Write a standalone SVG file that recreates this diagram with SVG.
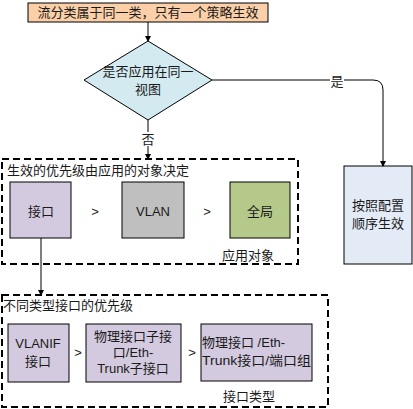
<svg xmlns="http://www.w3.org/2000/svg" width="413" height="409" viewBox="0 0 413 409">
<defs>
<style>
text{font-family:"Liberation Sans","Noto Sans CJK SC",sans-serif;font-size:13px;fill:#1a1a1a;text-anchor:middle;dominant-baseline:central}
.l{text-anchor:start}
.box{stroke:#000;stroke-width:1}
.dash{fill:none;stroke:#000;stroke-width:2;stroke-dasharray:7,4}
.con{fill:none;stroke:#000;stroke-width:1}
.pur{fill:#d3cadf}
</style>
<marker id="ah" markerWidth="6" markerHeight="6" refX="5" refY="3" orient="auto" markerUnits="userSpaceOnUse">
<path d="M0,0 L6,3 L0,6 z" fill="#000"/>
</marker>
</defs>
<rect width="413" height="409" fill="#fff"/>
<g id="group1">
<rect class="dash" x="2" y="159" width="296" height="105"/>
<text class="l" x="7" y="170">生效的优先级由应用的对象决定</text>
<text x="248" y="255">应用对象</text>
<text x="95" y="211">&gt;</text>
<text x="207" y="211">&gt;</text>
</g>
<g id="group2">
<rect class="dash" x="2" y="295" width="326" height="112"/>
<text class="l" x="3" y="305">不同类型接口的优先级</text>
<text x="249" y="396">接口类型</text>
<text x="78" y="352">&gt;</text>
<text x="192" y="352">&gt;</text>
</g>
<g id="start">
<rect class="box" x="28" y="3" width="240" height="19" fill="#fbcfa7"/>
<text x="148" y="12.5">流分类属于同一类，只有一个策略生效</text>
</g>
<g id="decision">
<polygon class="box" points="148,41 212,80 148,120 84,80" fill="#d3eaf0"/>
<text x="148" y="71">是否应用在同一</text>
<text x="148" y="89">视图</text>
</g>
<g id="config-order">
<rect class="box" x="344" y="166" width="68" height="98" fill="#e3ebf6"/>
<text x="378" y="205">按照配置</text>
<text x="378" y="223">顺序生效</text>
</g>
<g id="iface">
<rect class="box pur" x="10" y="182" width="61" height="56"/>
<text x="41" y="211">接口</text>
</g>
<g id="vlan">
<rect class="box" x="122" y="182" width="62" height="56" fill="#bfbfbf"/>
<text x="153" y="211">VLAN</text>
</g>
<g id="global">
<rect class="box" x="230" y="182" width="60" height="56" fill="#b5c98a"/>
<text x="260" y="211">全局</text>
</g>
<g id="vlanif">
<rect class="box pur" x="8" y="324" width="61" height="58"/>
<text x="38" y="343">VLANIF</text>
<text x="38" y="361">接口</text>
</g>
<g id="subif">
<rect class="box pur" x="86" y="324" width="95" height="58"/>
<text x="133" y="336">物理接口子接</text>
<text x="133" y="352">口/Eth-</text>
<text x="133" y="368">Trunk子接口</text>
</g>
<g id="phyif">
<rect class="box pur" x="201" y="324" width="111" height="57"/>
<text class="l" x="202" y="342">物理接口 /Eth-</text>
<text class="l" x="202" y="360" textLength="109" lengthAdjust="spacingAndGlyphs">Trunk接口/端口组</text>
</g>
<g id="connectors">
<line class="con" x1="148" y1="22" x2="148" y2="41" marker-end="url(#ah)"/>
<line class="con" x1="148" y1="120" x2="148" y2="159" marker-end="url(#ah)"/>
<rect x="141" y="132" width="14" height="14" fill="#fff"/>
<text x="148" y="139">否</text>
<path class="con" d="M212,80 H373 Q383,80 383,90 V166" marker-end="url(#ah)"/>
<rect x="330" y="74" width="14" height="14" fill="#fff"/>
<text x="337" y="81">是</text>
<line class="con" x1="41" y1="238" x2="41" y2="295" marker-end="url(#ah)"/>
</g>
</svg>
